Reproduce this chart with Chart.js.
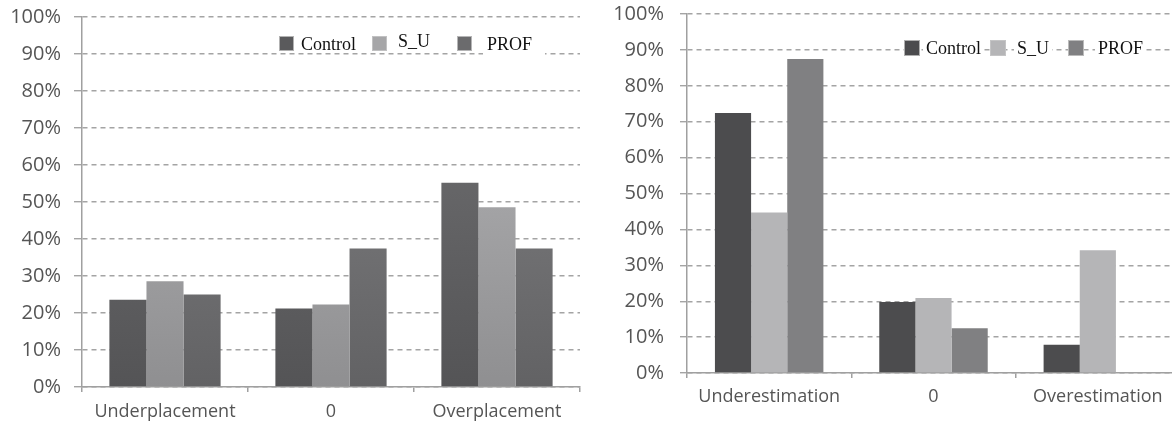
<!DOCTYPE html>
<html>
<head>
<meta charset="utf-8">
<script src="https://cdn.jsdelivr.net/npm/chart.js@4.4.1/dist/chart.umd.min.js"></script>
<style>
  html, body { margin: 0; padding: 0; background: #fff; }
  body { width: 1172px; height: 425px; overflow: hidden; position: relative; }
  #left { position: absolute; left: 0; top: 0; }
  #right { position: absolute; left: 590px; top: 0; }
</style>
</head>
<body>
<canvas id="left" width="590" height="425"></canvas>
<canvas id="right" width="600" height="425"></canvas>
<script>
// data
const leftCategories = ['Underplacement', '0', 'Overplacement'];
const leftControl = [23.6, 21.2, 55.2];
const leftSU = [28.6, 22.3, 48.6];
const leftPROF = [25.0, 37.4, 37.4];

const rightCategories = ['Underestimation', '0', 'Overestimation'];
const rightControl = [72.4, 19.8, 7.9];
const rightSU = [44.7, 20.9, 34.2];
const rightPROF = [87.5, 12.5, 0];

const seriesNames = ['Control', 'S_U', 'PROF'];
const percentTicks = ['0%', '10%', '20%', '30%', '40%', '50%', '60%', '70%', '80%', '90%', '100%'];

const xFont = { family: 'Open Sans', size: 18 };
const yFont = { family: 'Open Sans', size: 20 };
const tickColor = '#555';
const axisColor = '#a0a0a0';

// vertical gradient over the plot area (left chart bars are shaded)
function shade(top, bottom) {
    return function(ctx) {
        const area = ctx.chart.chartArea;
        if (!area) return bottom;
        const g = ctx.chart.ctx.createLinearGradient(0, area.top, 0, area.bottom);
        g.addColorStop(0, top);
        g.addColorStop(1, bottom);
        return g;
    };
}

function makeOptions(o) {
    return {
        responsive: false,
        animation: false,
        layout: { padding: { top: o.top, right: o.right, left: 0, bottom: 0 } },
        plugins: { legend: { display: false }, tooltip: { enabled: false } },
        scales: {
            x: {
                afterFit: s => { s.height = o.xHeight; s.paddingLeft = 0; s.paddingRight = 0; },
                grid: { display: true, drawOnChartArea: false, drawTicks: true, tickLength: 5, offset: true, color: axisColor, lineWidth: 1.5 },
                border: { display: true, color: axisColor, width: 1.5 },
                ticks: { font: xFont, color: tickColor, padding: o.xPad, maxRotation: 0 },
            },
            y: {
                min: 0,
                max: 100,
                afterFit: s => { s.width = o.yWidth; s.paddingTop = 0; s.paddingBottom = 0; },
                grid: { color: '#a4a4a4', lineWidth: 1.4, tickLength: o.yTick },
                border: { display: true, color: axisColor, width: 1.5, dash: [5, 4] },
                ticks: {
                    stepSize: 10,
                    font: yFont,
                    color: tickColor,
                    padding: o.yPad,
                    callback: (v, i) => percentTicks[i],
                },
            },
        },
    };
}

// legend drawn by hand, the way it sits in the figure
function legendPlugin(cfg) {
    return {
        id: 'boxLegend',
        afterDraw(chart) {
            const c = chart.ctx;
            c.save();
            c.font = cfg.font;
            if (cfg.mask) {
                c.fillStyle = '#fff';
                c.fillRect(cfg.mask[0], cfg.mask[1], cfg.mask[2], cfg.mask[3]);
            }
            chart.data.datasets.forEach((ds, i) => {
                const it = cfg.items[i];
                c.fillStyle = cfg.colors[i];
                c.fillRect(it.bx, cfg.boxY, cfg.box, cfg.box);
                c.strokeStyle = 'rgba(200,200,200,0.8)';
                c.lineWidth = 1;
                c.strokeRect(it.bx + 0.5, cfg.boxY + 0.5, cfg.box - 1, cfg.box - 1);
                const w = c.measureText(ds.label).width;
                if (cfg.textBg) {
                    c.fillStyle = '#fff';
                    c.fillRect(it.tx - 3, it.ty - 16, w + 6, 22);
                }
                c.fillStyle = '#111';
                c.textBaseline = 'alphabetic';
                c.fillText(ds.label, it.tx, it.ty);
            });
            c.restore();
        }
    };
}

new Chart(document.getElementById('left'), {
    type: 'bar',
    data: {
        labels: leftCategories,
        datasets: [
            { label: seriesNames[0], data: leftControl, backgroundColor: shade('#747476', '#545456') },
            { label: seriesNames[1], data: leftSU, backgroundColor: shade('#b8b8ba', '#8f8f91') },
            { label: seriesNames[2], data: leftPROF, backgroundColor: shade('#858587', '#626264') },
        ].map(d => Object.assign(d, { categoryPercentage: 0.67, barPercentage: 1.0, borderWidth: 0 })),
    },
    options: makeOptions({ top: 17, right: 10, xHeight: 38, xPad: 9, yWidth: 82, yTick: 8, yPad: 13 }),
    plugins: [legendPlugin({
        font: '18px "Liberation Serif"',
        box: 15,
        boxY: 36,
        colors: ['#5a5a5c', '#a6a6a8', '#6b6b6d'],
        items: [
            { bx: 279, tx: 301, ty: 50 },
            { bx: 372, tx: 398, ty: 47 },
            { bx: 457, tx: 487, ty: 50 },
        ],
        mask: [483, 26, 62, 34],
        textBg: false,
    })],
});

new Chart(document.getElementById('right'), {
    type: 'bar',
    data: {
        labels: rightCategories,
        datasets: [
            { label: seriesNames[0], data: rightControl, backgroundColor: '#4c4c4e' },
            { label: seriesNames[1], data: rightSU, backgroundColor: '#b5b5b7' },
            { label: seriesNames[2], data: rightPROF, backgroundColor: '#808082' },
        ].map(d => Object.assign(d, { categoryPercentage: 0.66, barPercentage: 1.0, borderWidth: 0 })),
    },
    options: makeOptions({ top: 14, right: 10, xHeight: 52, xPad: 8, yWidth: 97, yTick: 7, yPad: 16 }),
    plugins: [legendPlugin({
        font: '18px "Liberation Serif"',
        box: 16,
        boxY: 40,
        colors: ['#4c4c4e', '#b5b5b7', '#808082'],
        items: [
            { bx: 314, tx: 336, ty: 54 },
            { bx: 400, tx: 427, ty: 54 },
            { bx: 478, tx: 508, ty: 54 },
        ],
        mask: null,
        textBg: true,
    })],
});
</script>
</body>
</html>
